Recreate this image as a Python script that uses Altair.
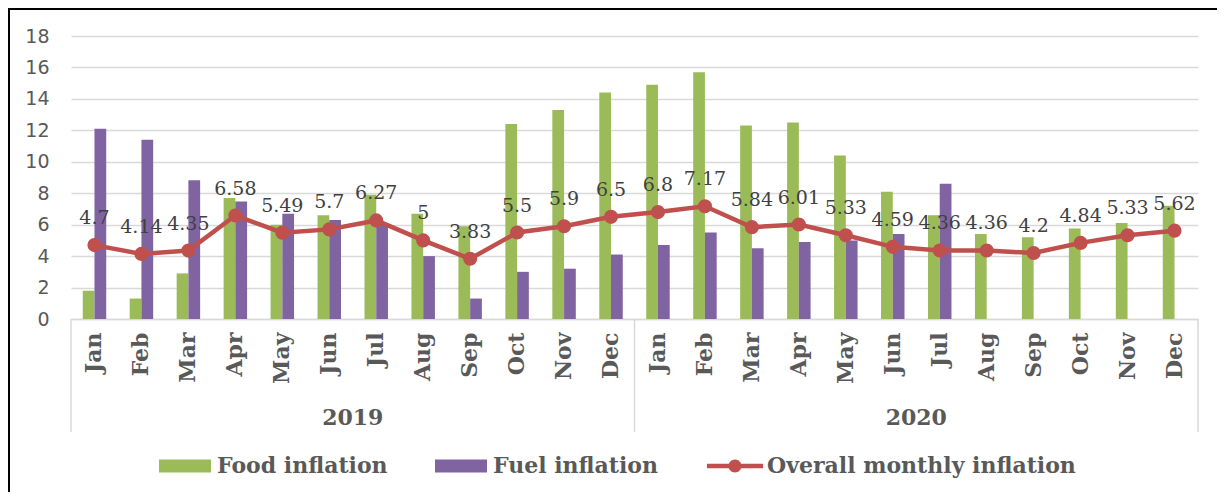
import altair as alt
import pandas as pd

months = ["Jan", "Feb", "Mar", "Apr", "May", "Jun", "Jul", "Aug", "Sep", "Oct", "Nov", "Dec"]
years = ["2019", "2020"]
keys = [f"{y}-{m}" for y in years for m in months]

food = [1.8, 1.3, 2.9, 7.7, 6.0, 6.6, 7.9, 6.7, 5.9, 12.4, 13.3, 14.4,
        14.9, 15.7, 12.3, 12.5, 10.4, 8.1, 6.6, 5.4, 5.2, 5.75, 6.1, 7.2]
fuel = [12.1, 11.4, 8.83, 7.47, 6.7, 6.3, 6.1, 4.0, 1.3, 3.0, 3.2, 4.1,
        4.7, 5.5, 4.5, 4.9, 5.0, 5.4, 8.6, None, None, None, None, None]
overall = [4.7, 4.14, 4.35, 6.58, 5.49, 5.7, 6.27, 5, 3.83, 5.5, 5.9, 6.5,
           6.8, 7.17, 5.84, 6.01, 5.33, 4.59, 4.36, 4.36, 4.2, 4.84, 5.33, 5.62]
overall_labels = ["4.7", "4.14", "4.35", "6.58", "5.49", "5.7", "6.27", "5", "3.83", "5.5", "5.9", "6.5",
                  "6.8", "7.17", "5.84", "6.01", "5.33", "4.59", "4.36", "4.36", "4.2", "4.84", "5.33", "5.62"]
y_ticks = [0, 2, 4, 6, 8, 10, 12, 14, 16, 18]
series_names = ["Food inflation", "Fuel inflation", "Overall monthly inflation"]
series_colors = ["#9BBB59", "#8064A2", "#C0504D"]

bar_rows = []
for k, f, u in zip(keys, food, fuel):
    bar_rows.append({"key": k, "series": series_names[0], "value": f})
    if u is not None:
        bar_rows.append({"key": k, "series": series_names[1], "value": u})
bars_df = pd.DataFrame(bar_rows)
line_df = pd.DataFrame({"key": keys, "value": overall, "label": overall_labels,
                        "series": series_names[2]})
year_df = pd.DataFrame({"year": years, "pos": ["2019-Jun", "2020-Jun"]})
sep_left_df = pd.DataFrame({"pos": ["2019-Jan", "2020-Jan"]})
sep_right_df = pd.DataFrame({"pos": ["2020-Dec"]})
frame_df = pd.DataFrame({"a": [0]})

W, H = 1127, 283
SERIF = "DejaVu Serif"
TXT = "#595959"

rect_path = "M-1,-0.25 L1,-0.25 L1,0.25 L-1,0.25 Z"
line_path = ("M-1.08,-0.09 L-0.2,-0.09 L-0.2,0.09 L-1.08,0.09 Z "
             "M0.2,-0.09 L1.08,-0.09 L1.08,0.09 L0.2,0.09 Z "
             "M-0.25,0 A0.25,0.25 0 1,1 0.25,0 A0.25,0.25 0 1,1 -0.25,0 Z")

legend = alt.Legend(orient="none", legendX=88, legendY=404, direction="horizontal",
                    title=None, labelFont=SERIF, labelFontWeight="bold", labelFontSize=22,
                    labelColor=TXT, symbolSize=2704, symbolStrokeWidth=0, labelOffset=6,
                    columnPadding=47, padding=0, symbolOpacity=1, labelLimit=0)

xscale = alt.Scale(domain=keys, paddingInner=0, paddingOuter=0)
yscale = alt.Scale(domain=[0, 18], nice=False, zero=True)
color_scale = alt.Scale(domain=series_names, range=series_colors)

x_axis = alt.Axis(title=None, labelExpr="split(datum.value, '-')[1]", labelAngle=-90,
                  labelFont=SERIF, labelFontWeight="bold", labelFontSize=22, labelColor=TXT,
                  labelPadding=13, ticks=False, domainColor="#D9D9D9", domainWidth=1.5,
                  grid=False)
y_axis = alt.Axis(title=None, values=y_ticks, tickCount=10, labelFont="DejaVu Sans",
                  labelFontSize=19, labelColor=TXT, labelPadding=22, ticks=False,
                  domain=False, gridColor="#D9D9D9", gridWidth=1.5, labelOverlap=False,
                  labelFlush=False, labelBound=False)

xenc = alt.X("key:N", scale=xscale, axis=x_axis, sort=keys)
yenc = alt.Y("value:Q", scale=yscale, axis=y_axis)

bars = alt.Chart(bars_df).mark_bar().encode(
    x=xenc,
    xOffset=alt.XOffset("series:N", scale=alt.Scale(domain=series_names[:2], paddingInner=0, paddingOuter=1)),
    y=yenc,
    color=alt.Color("series:N", scale=color_scale, legend=legend),
)

line = alt.Chart(line_df).mark_line(color="#C0504D", strokeWidth=4.5).encode(x=xenc, y=yenc)
points = alt.Chart(line_df).mark_circle(color="#C0504D", size=200, opacity=1).encode(x=xenc, y=yenc)
legend_shape = alt.Chart(line_df).mark_point(filled=True, opacity=1).encode(
    x=xenc, y=yenc,
    color=alt.Color("series:N", scale=color_scale, legend=legend),
    shape=alt.Shape("series:N", scale=alt.Scale(domain=series_names,
                                                range=[rect_path, rect_path, line_path]),
                    legend=legend),
).transform_filter("datum.value > 1000")

labels = alt.Chart(line_df).mark_text(font=SERIF, fontSize=19, color="#404040", dy=-27).encode(
    x=xenc, y=yenc, text="label:N",
)

year_text = alt.Chart(year_df).mark_text(font=SERIF, fontWeight="bold", fontSize=22,
                                         color=TXT, baseline="middle").encode(
    x=alt.X("pos:N", scale=xscale, bandPosition=1, axis=x_axis),
    y=alt.value(382),
    text="year:N",
)
sep_left = alt.Chart(sep_left_df).mark_rule(color="#D9D9D9", strokeWidth=1.5).encode(
    x=alt.X("pos:N", scale=xscale, bandPosition=0, axis=x_axis),
    y=alt.value(H), y2=alt.value(396),
)
sep_right = alt.Chart(sep_right_df).mark_rule(color="#D9D9D9", strokeWidth=1.5).encode(
    x=alt.X("pos:N", scale=xscale, bandPosition=1, axis=x_axis),
    y=alt.value(H), y2=alt.value(396),
)
frame = alt.Chart(frame_df).mark_rect(fill=None, stroke="#000000", strokeWidth=2).encode(
    x=alt.value(-62), x2=alt.value(1400), y=alt.value(-27), y2=alt.value(800),
)

chart = alt.layer(frame, bars, sep_left, sep_right, year_text, line, points, legend_shape, labels).properties(
    width=W, height=H,
    autosize=alt.AutoSizeParams(type="none"),
    padding={"left": 63, "top": 28, "right": 19, "bottom": 173},
    background="white",
).configure_view(stroke=None)

chart.save("out.html", embed_options={"renderer": "svg", "actions": False})
